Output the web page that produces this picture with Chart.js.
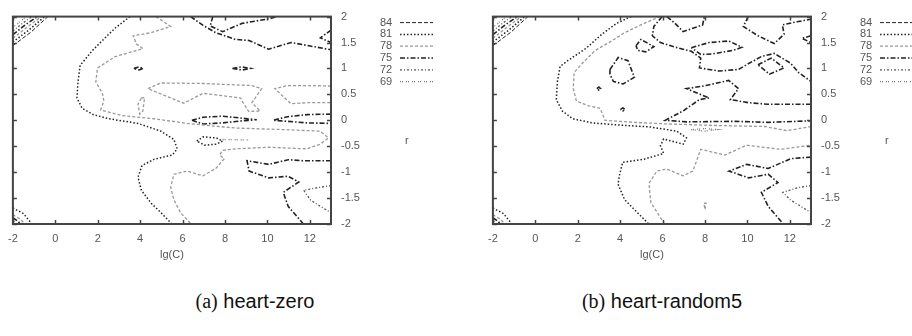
<!DOCTYPE html>
<html>
<head>
<meta charset="utf-8">
<script src="https://cdn.jsdelivr.net/npm/chart.js@4.4.0/dist/chart.umd.min.js"></script>
<style>
html, body { margin: 0; padding: 0; background: #fff; width: 912px; height: 336px; overflow: hidden; position: relative; }
.panel { position: absolute; top: 0; width: 480px; height: 260px; }
#p1 { left: 0; }
#p2 { left: 480px; }
.cap { position: absolute; top: 290px; transform: translateX(-50%); font-family: "Liberation Sans", Arial, sans-serif; font-size: 20px; color: #111; white-space: nowrap; }
.cap .n { font-family: "Liberation Serif", "DejaVu Serif", serif; }
#capA { left: 255px; }
#capB { left: 662px; }
</style>
</head>
<body>
<div class="panel" id="p1"><canvas id="zeroChart" width="480" height="260"></canvas></div>
<div class="panel" id="p2"><canvas id="randomChart" width="480" height="260"></canvas></div>
<div class="cap" id="capA"><span class="n">(a)</span> heart-zero</div>
<div class="cap" id="capB"><span class="n">(b)</span> heart-random5</div>
<script>
// contour levels and axis ticks
const levels = [84, 81, 78, 75, 72, 69];
const xTicks = [-2, 0, 2, 4, 6, 8, 10, 12];
const yTicks = [-2, -1.5, -1, -0.5, 0, 0.5, 1, 1.5, 2];

// heart-zero contours, [lg(C), r] points per path
const zero84 = [
    [[-2, 1.44], [-1.15, 1.7], [-0.35, 2]]
];
const zero81 = [
    [[3.52, 2], [2.83, 1.78], [2.37, 1.6], [1.76, 1.35], [1.17, 1.06], [1.07, 0.74], [1.02, 0.43], [1.27, 0.23],
     [1.79, 0.11], [2.52, 0.03], [3.9, -0.06], [4.98, -0.21], [5.59, -0.37], [5.75, -0.55], [5.52, -0.67],
     [4.67, -0.75], [4.09, -0.87], [3.9, -1.1], [4.06, -1.35], [4.52, -1.6], [4.98, -1.78], [5.5, -2]],
    [[-2, 1.51], [-1.25, 1.74], [-0.5, 2]],
    [[-2, -1.69], [-1.5, -1.8], [-1.1, -2]],
    [[6.67, -0.4], [6.97, -0.32], [7.59, -0.34], [7.89, -0.4], [7.59, -0.46], [7.05, -0.48], [6.67, -0.4]]
];
const zero78 = [
    [[4.75, 2], [5.44, 1.81], [4.52, 1.69], [3.67, 1.63], [3.83, 1.47], [4.13, 1.38], [2.83, 1.23], [1.99, 1.01],
     [1.91, 0.74], [2.22, 0.52], [2.29, 0.37], [2.14, 0.2], [3.14, 0.09], [4.67, 0.03], [6.21, -0.06],
     [8.51, -0.15], [10.81, -0.18], [12.49, -0.21], [12.88, -0.34], [12.49, -0.46], [11.88, -0.55],
     [10.04, -0.52], [8.51, -0.55], [7.89, -0.58], [7.74, -0.67], [7.97, -0.74], [7.59, -0.92], [6.97, -1.07],
     [6.21, -0.98], [5.59, -1.04], [5.44, -1.29], [5.59, -1.53], [5.9, -1.78], [6.4, -2]],
    [[4.37, 0.61], [4.98, 0.72], [6.97, 0.71], [9.27, 0.67], [9.73, 0.61], [9.27, 0.34], [9.66, 0.18],
     [9.12, 0.17], [8.81, 0.37], [8.74, 0.43], [6.97, 0.52], [6.05, 0.33], [4.37, 0.61]],
    [[4.06, 0.43], [4.21, 0.44], [4.13, 0.18], [3.98, 0.12], [3.9, 0.31], [4.06, 0.43]],
    [[13, 0.66], [12.03, 0.67], [10.96, 0.67], [10.35, 0.61], [11.11, 0.32], [11.88, 0.34], [13, 0.34]],
    [[-2, 1.58], [-1.35, 1.79], [-0.65, 2]],
    [[-2, -1.82], [-1.6, -1.92], [-1.45, -2]]
];
const zero75 = [
    [[7.43, 2], [7.3, 1.82], [7.89, 1.71], [8.81, 1.87], [10.1, 1.96], [10.43, 2]],
    [[6.38, 2], [6.97, 1.83], [7.57, 1.69], [8.49, 1.56], [9.14, 1.54], [10.06, 1.37], [11.12, 1.5], [13, 1.36]],
    [[13, 1.74], [12.5, 1.59], [13, 1.5]],
    [[6.44, 0], [6.97, 0.06], [7.89, 0.08], [8.81, 0.04], [9.5, 0.01], [8.81, -0.01], [7.89, -0.05], [6.97, -0.07], [6.44, 0]],
    [[13, 0.12], [11.88, 0.11], [10.96, 0.07], [10.27, 0], [10.96, -0.02], [11.88, -0.05], [13, -0.06]],
    [[13, -0.78], [11.71, -0.78], [10.98, -0.76], [10.06, -0.85], [9.04, -0.78], [9.14, -0.98], [10.06, -1.11],
     [10.98, -1.08], [11.48, -1.19], [10.75, -1.39], [10.98, -1.66], [11.7, -2]],
    [[3.7, 1], [3.95, 1.03], [4.15, 1], [3.95, 0.97], [3.7, 1]],
    [[8.35, 1], [8.8, 1.03], [9.2, 1], [8.8, 0.97], [8.35, 1]],
    [[-2, 1.65], [-1.45, 1.83], [-0.85, 2]],
    [[-2, -1.88], [-1.75, -1.95], [-1.65, -2]]
];
const zero72 = [
    [[13, -1.26], [12.36, -1.3], [11.71, -1.35], [12.04, -1.54], [12.5, -1.66], [13, -1.78]],
    [[-2, 1.72], [-1.55, 1.87], [-1.1, 2]],
    [[-2, -1.93], [-1.82, -2]]
];
const zero69 = [
    [[7.89, -0.37], [9.12, -0.38]],
    [[-2, 1.79], [-1.65, 1.91], [-1.35, 2]]
];

// heart-random5 contours
const rand84 = [
    [[-2, 1.44], [-1.15, 1.7], [-0.35, 2]]
];
const rand81 = [
    [[4.52, 2], [3.83, 1.87], [3.14, 1.66], [2.37, 1.38], [1.6, 1.17], [1.17, 1.04], [1.04, 0.74], [0.99, 0.4],
     [1.27, 0.18], [1.76, 0.03], [2.68, -0.05], [3.9, -0.09], [5.44, -0.13], [6.67, -0.21], [7.13, -0.34],
     [6.97, -0.46], [6.05, -0.36], [5.9, -0.49], [6.05, -0.64], [5.13, -0.75], [4.12, -0.81], [3.98, -1.04],
     [3.9, -1.23], [4.21, -1.53], [4.67, -1.72], [5.35, -2]],
    [[-2, 1.51], [-1.25, 1.74], [-0.5, 2]],
    [[-2, -1.69], [-1.5, -1.8], [-1.1, -2]]
];
const rand78 = [
    [[5.9, 2], [5.13, 1.87], [4.21, 1.69], [3.6, 1.53], [2.83, 1.35], [2.22, 1.1], [1.83, 0.92], [1.79, 0.61],
     [1.94, 0.37], [2.52, 0.28], [3.06, 0.23], [3.29, 0], [4.67, -0.04], [6.21, -0.07], [8.51, -0.1],
     [10.81, -0.12], [11.88, -0.2], [13, -0.12]],
    [[6.1, -2], [5.45, -1.59], [5.36, -1.22], [5.73, -0.98], [6.19, -0.94], [6.97, -1.07], [7.43, -0.98],
     [7.8, -0.56], [8.95, -0.67], [9.96, -0.48], [11.57, -0.56], [13, -0.48]],
    [[7.95, -1.6], [8.05, -1.6], [8.0, -1.72], [7.95, -1.6]],
    [[-2, 1.58], [-1.35, 1.79], [-0.65, 2]],
    [[-2, -1.82], [-1.6, -1.92], [-1.45, -2]]
];
const rand75 = [
    [[5.98, 2], [5.59, 1.81], [5.52, 1.63], [5.9, 1.5], [6.59, 1.41], [7.36, 1.33], [7.8, 1.2], [7.74, 1.01],
     [8.66, 0.95], [9.58, 0.98], [10.04, 1.09], [10.66, 1.23], [11.27, 1.29], [12.04, 1.1], [12.42, 0.92], [13, 0.75]],
    [[10.5, 1.07], [11.12, 1.2], [11.73, 1.01], [11.04, 0.89], [10.5, 1.07]],
    [[7.36, 1.4], [8.2, 1.5], [9.12, 1.53], [9.74, 1.41], [9.35, 1.35], [8.35, 1.28], [7.8, 1.27], [7.36, 1.4]],
    [[6.21, 2], [6.59, 1.87], [6.97, 1.71], [7.89, 1.84], [7.97, 2]],
    [[10.04, 2], [9.81, 1.81], [10.5, 1.63], [11.27, 1.48], [11.73, 1.66], [11.65, 1.84], [12.34, 1.9], [13, 1.95]],
    [[13, 1.63], [12.57, 1.58], [13, 1.5]],
    [[4.75, 1.44], [4.98, 1.56], [5.59, 1.42], [5.21, 1.32], [4.83, 1.35], [4.75, 1.44]],
    [[3.52, 0.98], [3.91, 1.21], [4.37, 1.15], [4.67, 0.83], [4.14, 0.7], [3.68, 0.75], [3.52, 0.89], [3.52, 0.98]],
    [[13, 0.31], [11.88, 0.31], [10.96, 0.31], [10.04, 0.34], [9.2, 0.4], [9.58, 0.61], [9.12, 0.77], [8.05, 0.67],
     [7.13, 0.61], [8.2, 0.43], [7.74, 0.4], [6.97, 0.18], [6.13, 0], [7.13, -0.03], [9.43, -0.02], [10.96, -0.04], [13, -0.01]],
    [[13, -0.71], [12.04, -0.74], [10.98, -0.93], [9.97, -0.85], [9.14, -0.98], [10.06, -1.11], [10.98, -1.04],
     [11.44, -1.2], [10.66, -1.39], [10.98, -1.66], [11.7, -2]],
    [[2.9, 0.61], [3.0, 0.64], [3.08, 0.61], [3.0, 0.58], [2.9, 0.61]],
    [[4.02, 0.21], [4.13, 0.24], [4.24, 0.21], [4.13, 0.18], [4.02, 0.21]],
    [[-2, 1.65], [-1.45, 1.83], [-0.85, 2]],
    [[-2, -1.88], [-1.75, -1.95], [-1.65, -2]]
];
const rand72 = [
    [[13, -1.26], [12.36, -1.3], [11.67, -1.39], [12.04, -1.54], [13, -1.78]],
    [[-2, 1.72], [-1.55, 1.87], [-1.1, 2]],
    [[-2, -1.93], [-1.82, -2]]
];
const rand69 = [
    [[7.34, -0.18], [8.0, -0.16], [8.58, -0.18], [8.0, -0.21], [7.34, -0.18]],
    [[-2, 1.79], [-1.65, 1.91], [-1.35, 2]]
];

// line style for each level (gnuplot-like)
const levelStyles = {
    84: { color: '#222', dash: [4, 2], width: 1 },
    81: { color: '#222', dash: [1.5, 2], width: 1.5 },
    78: { color: '#999', dash: [3, 2], width: 1.3 },
    75: { color: '#222', dash: [5, 2, 1.5, 2], width: 1.6 },
    72: { color: '#555', dash: [2, 2, 1, 2], width: 1.3 },
    69: { color: '#777', dash: [1, 1, 1, 3], width: 1.3 }
};

function buildDatasets(byLevel) {
    const sets = [];
    levels.forEach(function(lv) {
        const st = levelStyles[lv];
        byLevel[lv].forEach(function(path) {
            sets.push({
                label: String(lv),
                data: path.map(p => ({ x: p[0], y: p[1] })),
                showLine: true,
                pointRadius: 0,
                borderColor: st.color,
                borderDash: st.dash,
                borderWidth: st.width,
                fill: false,
                tension: 0
            });
        });
    });
    return sets;
}

const framePlugin = {
    id: 'frame',
    afterDraw(chart) {
        const { ctx, chartArea: a, scales } = chart;
        const x = scales.x, y = scales.y;
        ctx.save();
        ctx.setLineDash([]);
        ctx.strokeStyle = '#444';
        ctx.lineWidth = 1.5;
        ctx.beginPath();
        xTicks.forEach(function(v) {
            const px = Math.round(x.getPixelForValue(v)) + 0.5;
            ctx.moveTo(px, a.bottom); ctx.lineTo(px, a.bottom - 4);
            ctx.moveTo(px, a.top); ctx.lineTo(px, a.top + 4);
        });
        yTicks.forEach(function(v) {
            const py = Math.round(y.getPixelForValue(v)) + 0.5;
            ctx.moveTo(a.left, py); ctx.lineTo(a.left + 4, py);
            ctx.moveTo(a.right, py); ctx.lineTo(a.right - 4, py);
        });
        ctx.stroke();
        ctx.lineWidth = 2;
        ctx.strokeRect(a.left, a.top, a.right - a.left, a.bottom - a.top);

        // level key
        ctx.font = '11px "Liberation Sans", Arial, sans-serif';
        ctx.fillStyle = '#555';
        ctx.textBaseline = 'middle';
        ctx.textAlign = 'left';
        levels.forEach(function(lv, i) {
            const st = levelStyles[lv];
            const yy = a.top + 6 + i * 11.8;
            ctx.fillText(String(lv), a.right + 49, yy);
            ctx.beginPath();
            ctx.strokeStyle = st.color;
            ctx.lineWidth = st.width;
            ctx.setLineDash(st.dash);
            ctx.moveTo(a.right + 69, yy);
            ctx.lineTo(a.right + 102, yy);
            ctx.stroke();
        });
        ctx.setLineDash([]);

        // axis titles
        ctx.fillText('r', a.right + 74, 141);
        ctx.textAlign = 'center';
        ctx.fillText('lg(C)', (a.left + a.right) / 2, 255);
        ctx.restore();
    }
};

function makeConfig(byLevel) {
    return {
        type: 'scatter',
        data: { datasets: buildDatasets(byLevel) },
        options: {
            responsive: false,
            animation: false,
            layout: { padding: { left: 5, top: 8, right: 109, bottom: 6 } },
            plugins: { legend: { display: false }, tooltip: { enabled: false } },
            scales: {
                x: {
                    type: 'linear',
                    min: -2,
                    max: 13,
                    afterBuildTicks: s => { s.ticks = xTicks.map(v => ({ value: v })); },
                    afterFit: s => { s.height = 30; },
                    grid: { display: false, drawTicks: false },
                    border: { display: false },
                    ticks: {
                        padding: 8,
                        color: '#555',
                        font: { family: '"Liberation Sans", Arial, sans-serif', size: 11 },
                        maxRotation: 0,
                        callback: v => String(v)
                    }
                },
                y: {
                    type: 'linear',
                    position: 'right',
                    min: -2,
                    max: 2,
                    afterBuildTicks: s => { s.ticks = yTicks.map(v => ({ value: v })); },
                    afterFit: s => { s.width = 40; },
                    grid: { display: false, drawTicks: false },
                    border: { display: false },
                    ticks: {
                        padding: 10,
                        color: '#555',
                        font: { family: '"Liberation Sans", Arial, sans-serif', size: 11 },
                        callback: v => String(v)
                    }
                }
            }
        },
        plugins: [framePlugin]
    };
}

function initChart(ctx, config) {
    if (!ctx) {
        console.error('Canvas context not found');
        return;
    }
    return new Chart(ctx, config);
}

initChart(document.getElementById('zeroChart').getContext('2d'),
    makeConfig({ 84: zero84, 81: zero81, 78: zero78, 75: zero75, 72: zero72, 69: zero69 }));
initChart(document.getElementById('randomChart').getContext('2d'),
    makeConfig({ 84: rand84, 81: rand81, 78: rand78, 75: rand75, 72: rand72, 69: rand69 }));
</script>
</body>
</html>
